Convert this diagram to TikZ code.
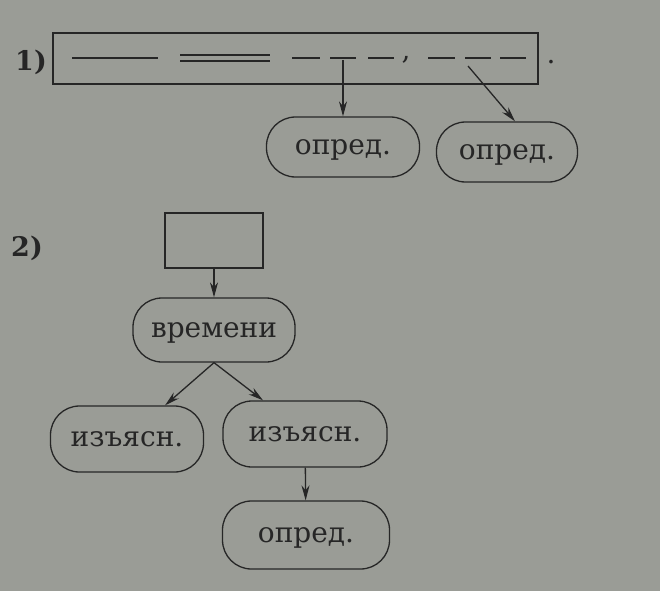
\documentclass[tikz,border=0pt]{standalone}
\usepackage{fontspec}
\setmainfont{DejaVu Serif}
\usetikzlibrary{arrows.meta,positioning}
\definecolor{paper}{HTML}{9A9C96}
\definecolor{ink}{HTML}{262626}

\begin{document}
\begin{tikzpicture}[x=1pt, y=-1pt, line width=1.3pt, draw=ink, text=ink,
    member/.style={draw, rounded corners=29pt, inner sep=0pt,
      minimum height=60pt, text height=20pt, text depth=5pt,
      font=\fontsize{28}{32}\selectfont},
    slotbox/.style={draw, inner sep=0pt},
    link/.style={-{Stealth[length=15pt,width=8pt]}},
    numlabel/.style={font=\fontsize{27}{31}\selectfont\bfseries}]
  % paper
  \fill[paper] (0,0) rectangle (660,591);

  % 1) sentence scheme
  \node[numlabel] (n1) at (31,62) {1)};
  \node[slotbox, minimum width=485pt, minimum height=51pt] (sent) at (295.5,58.5) {};
  \draw (72,58) -- (158,58);
  \draw (180,55) -- (270,55);
  \draw (180,61) -- (270,61);
  \foreach \a/\b in {292/320, 330/356, 368/394, 428/455, 465/491, 500/526}
    \draw (\a,58) -- (\b,58);
  \node[font=\fontsize{28}{32}\selectfont] (comma) at (406,60) {,};
  \node[font=\fontsize{28}{32}\selectfont] (dot) at (551,62) {.};
  \coordinate (c1) at (343,60);
  \coordinate (c2) at (468,66);

  \node[member, minimum width=153pt] (opr1) at (343,147) {опред.};
  \node[member, minimum width=141pt] (opr2) at (507,152) {опред.};
  \draw[link] (c1) -- (opr1.north);
  \draw[link] (c2) -- ([xshift=8pt]opr2.north);

  % 2) tree
  \node[numlabel] (n2) at (27,248) {2)};
  \node[slotbox, minimum width=98pt, minimum height=55pt] (slot) at (214,240.5) {};
  \node[member, minimum width=162pt, minimum height=64pt] (vrem) at (214,330) {времени};
  \node[member, minimum width=153pt, minimum height=66pt] (izl) at (127,439) {изъясн.};
  \node[member, minimum width=164pt, minimum height=66pt] (izr) at (305,434) {изъясн.};
  \node[member, minimum width=167pt, minimum height=68pt] (opr3) at (306,535) {опред.};

  \draw[link] (slot) -- (vrem);
  \draw[link] (vrem.south) -- ([xshift=38pt]izl.north);
  \draw[link] (vrem.south) -- ([xshift=-42pt]izr.north);
  \draw[link] (izr) -- (opr3);
\end{tikzpicture}
\end{document}
